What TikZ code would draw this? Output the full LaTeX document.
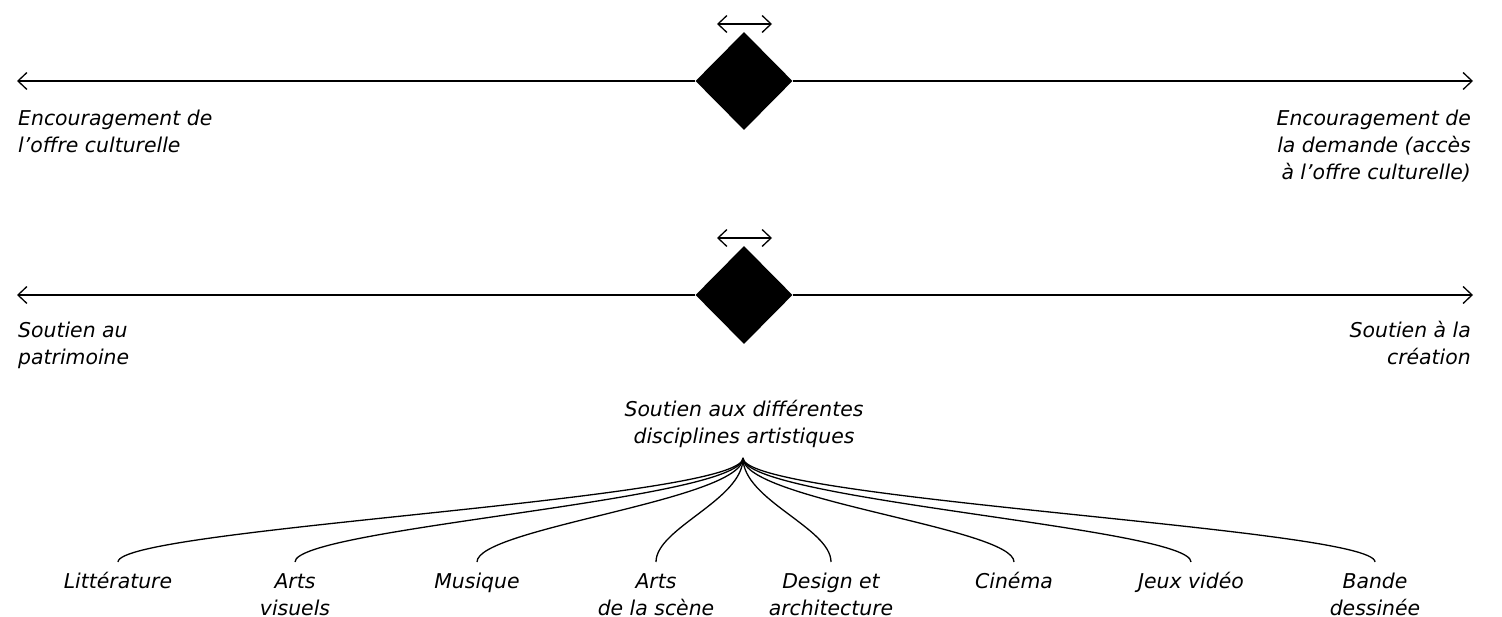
\documentclass[tikz,border=0pt]{standalone}
\usepackage{fontspec}
\setmainfont{DejaVu Sans}
\usetikzlibrary{arrows.meta,shapes.geometric}
\begin{document}
\begin{tikzpicture}[x=1pt,y=-1pt,
  lbl/.style={font=\fontsize{20.4}{27}\selectfont\itshape, inner sep=0pt},
  axis/.style={line width=1.3pt, -{Straight Barb[length=9pt,width=17pt,line width=1.3pt]}},
  dbl/.style={line width=1.3pt, {Straight Barb[length=9pt,width=17pt,line width=1.3pt]}-{Straight Barb[length=9pt,width=17pt,line width=1.3pt]}},
  dia/.style={diamond, fill=black, draw=none, minimum width=97pt, minimum height=98pt, inner sep=0pt},
  branch/.style={line width=1.3pt}]
\useasboundingbox (0,0) rectangle (1502,617);
\fill[white] (0,0) rectangle (1502,617);

% row 1
\node[dia] (d1) at (744,81) {};
\coordinate (l1) at (17,81);
\coordinate (r1) at (1473,81);
\draw[axis] (d1) -- (l1);
\draw[axis] (d1) -- (r1);
\coordinate (s1a) at (717,24);
\coordinate (s1b) at (772,24);
\draw[dbl] (s1a) -- (s1b);
\node[lbl, anchor=base west, align=left] (t1l) at (18,153) {Encouragement de\\l’offre culturelle};
\node[lbl, anchor=base east, align=right] (t1r) at (1471,180) {Encouragement de\\la demande (accès\\à l’offre culturelle)};

% row 2
\node[dia] (d2) at (744,295) {};
\coordinate (l2) at (17,295);
\coordinate (r2) at (1473,295);
\draw[axis] (d2) -- (l2);
\draw[axis] (d2) -- (r2);
\coordinate (s2a) at (717,238);
\coordinate (s2b) at (772,238);
\draw[dbl] (s2a) -- (s2b);
\node[lbl, anchor=base west, align=left] (t2l) at (18,365) {Soutien au\\patrimoine};
\node[lbl, anchor=base east, align=right] (t2r) at (1471,365) {Soutien à la\\création};

% disciplines
\node[lbl, anchor=base, align=center] (root) at (744,443) {Soutien aux différentes\\disciplines artistiques};
\coordinate (rp) at (743,458);

\foreach \n/\x/\y/\t in {a/118/588/{Littérature},
                      b/295/615/{Arts\\visuels},
                      c/477/588/{Musique},
                      d/656/615/{Arts\\de la scène},
                      e/831/615/{Design et\\architecture},
                      f/1014/588/{Cinéma},
                      g/1191/588/{Jeux vidéo},
                      h/1375/615/{Bande\\dessinée}}{
  \node[lbl, anchor=base, align=center] (\n) at (\x,\y) {\t};
  \coordinate (\n top) at (\x,562);
  \draw[branch] (rp) .. controls (743,500) and (\x,528) .. (\n top);
}
\end{tikzpicture}
\end{document}
